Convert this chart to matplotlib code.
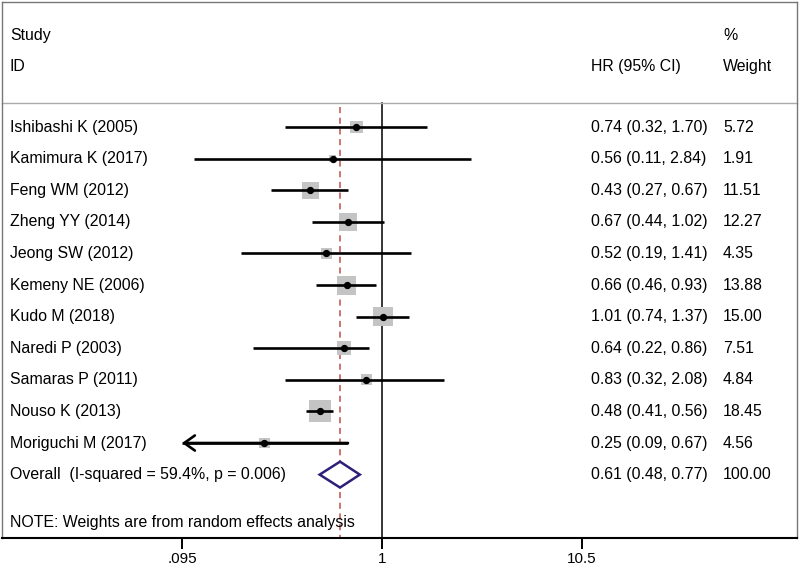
import matplotlib
matplotlib.use("Agg")
import matplotlib.pyplot as plt
from matplotlib.patches import Polygon

plt.rcParams['font.family'] = ['Liberation Sans', 'DejaVu Sans']

# data
studies = ["Ishibashi K (2005)", "Kamimura K (2017)", "Feng WM (2012)", "Zheng YY (2014)",
           "Jeong SW (2012)", "Kemeny NE (2006)", "Kudo M (2018)", "Naredi P (2003)",
           "Samaras P (2011)", "Nouso K (2013)", "Moriguchi M (2017)"]
hr = [0.74, 0.56, 0.43, 0.67, 0.52, 0.66, 1.01, 0.64, 0.83, 0.48, 0.25]
lo = [0.32, 0.11, 0.27, 0.44, 0.19, 0.46, 0.74, 0.22, 0.32, 0.41, 0.09]
hi = [1.70, 2.84, 0.67, 1.02, 1.41, 0.93, 1.37, 0.86, 2.08, 0.56, 0.67]
weight = [5.72, 1.91, 11.51, 12.27, 4.35, 13.88, 15.00, 7.51, 4.84, 18.45, 4.56]
overall_hr, overall_lo, overall_hi = 0.61, 0.48, 0.77
overall_label = "Overall  (I-squared = 59.4%, p = 0.006)"
note = "NOTE: Weights are from random effects analysis"
xticks = [0.095, 1, 10.5]
xticklabels = [".095", "1", "10.5"]

fs = 11.4
fig = plt.figure(figsize=(8, 5.69), dpi=100)
ax = fig.add_axes([2 / 800, 1 - 538 / 569, 795 / 800, 536 / 569])
ax.set_xscale('log')
ax.set_xlim(0.01143, 132)
ax.set_ylim(13.006, -3.956)

n = len(studies)
rows = list(range(n))
xmin = xticks[0]
tr = ax.get_yaxis_transform()

# reference lines
ax.plot([1, 1], [-0.76, 13.006], color='black', lw=1.1, zorder=1)
ax.plot([overall_hr, overall_hr], [-0.62, 13.006], color='#c0504d', lw=1.1,
        ls=(0, (4, 3)), zorder=1)
ax.plot([0, 1], [-0.76, -0.76], transform=tr, color='#aaaaaa', lw=1.0, clip_on=False)

# study CIs
for i in rows:
    left = max(lo[i], xmin)
    ax.plot([left, hi[i]], [i, i], color='black', lw=1.9, zorder=3, solid_capstyle='butt')
    if lo[i] < xmin:
        ax.annotate('', xy=(xmin, i), xytext=(hi[i], i),
                    arrowprops=dict(arrowstyle='->,head_length=0.45,head_width=0.32',
                                    lw=1.9, color='black', mutation_scale=17,
                                    shrinkA=0, shrinkB=0), zorder=3)
ax.scatter(hr, rows, marker='s', s=[13.5 * w for w in weight], color='#c4c4c4',
           edgecolors='none', zorder=2)
ax.scatter(hr, rows, marker='o', s=18, color='black', zorder=4)

# pooled diamond
yo = n
dia = Polygon([(overall_lo, yo), (overall_hr, yo - 0.41), (overall_hi, yo),
               (overall_hr, yo + 0.41)], closed=True, facecolor='white',
              edgecolor='#2e1f7a', lw=1.8, zorder=3)
ax.add_patch(dia)

# text columns
x_name, x_hr, x_w = 0.010, 0.741, 0.907
ax.text(x_name, -2.91, "Study", transform=tr, fontsize=fs, va='center')
ax.text(x_name, -1.93, "ID", transform=tr, fontsize=fs, va='center')
ax.text(x_hr, -1.93, "HR (95% CI)", transform=tr, fontsize=fs, va='center')
ax.text(x_w, -2.91, "%", transform=tr, fontsize=fs, va='center')
ax.text(x_w, -1.93, "Weight", transform=tr, fontsize=fs, va='center')
for i in rows:
    ax.text(x_name, i, studies[i], transform=tr, fontsize=fs, va='center')
    ax.text(x_hr, i, "%.2f (%.2f, %.2f)" % (hr[i], lo[i], hi[i]), transform=tr,
            fontsize=fs, va='center')
    ax.text(x_w, i, "%.2f" % weight[i], transform=tr, fontsize=fs, va='center')
ax.text(x_name, yo, overall_label, transform=tr, fontsize=fs, va='center')
ax.text(x_hr, yo, "%.2f (%.2f, %.2f)" % (overall_hr, overall_lo, overall_hi),
        transform=tr, fontsize=fs, va='center')
ax.text(x_w, yo, "100.00", transform=tr, fontsize=fs, va='center')
ax.text(x_name, 12.53, note, transform=tr, fontsize=fs, va='center')

# axes styling
ax.set_xticks(xticks)
ax.set_xticklabels(xticklabels)
ax.minorticks_off()
ax.set_yticks([])
ax.tick_params(axis='x', length=8, width=1.4, labelsize=11, pad=2)
for s in ['top', 'left', 'right']:
    ax.spines[s].set_color('#777777')
    ax.spines[s].set_linewidth(1.0)
ax.spines['bottom'].set_linewidth(1.5)

fig.savefig("out.png", dpi=100)
